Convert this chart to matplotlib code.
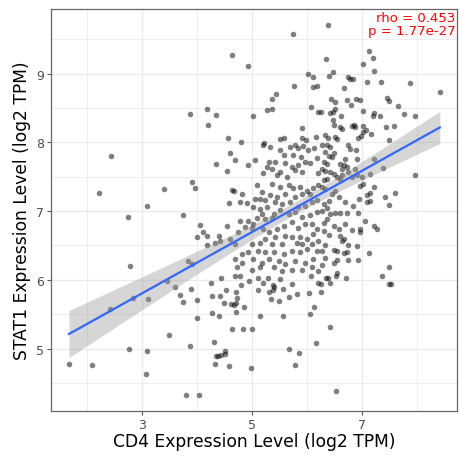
import numpy as np
import matplotlib
matplotlib.use("Agg")
import matplotlib.pyplot as plt
from matplotlib.ticker import MultipleLocator

# (CD4, STAT1) pairs, grouped by region of the panel
upper_mid = [(5.75, 9.58), (4.64, 9.27), (4.92, 9.11), (6.02, 9.00), (6.10, 8.95), (5.76, 8.82),
             (6.11, 8.81), (6.18, 8.82), (5.44, 8.71), (5.36, 8.64), (3.87, 8.42), (4.18, 8.48),
             (4.35, 8.40), (5.02, 8.39), (5.26, 8.47), (5.36, 8.49), (6.07, 8.51), (6.19, 8.44),
             (4.20, 8.25), (5.91, 8.21), (4.56, 8.07), (4.80, 8.01), (5.51, 8.05), (5.57, 8.07),
             (5.91, 8.07), (5.98, 8.04), (6.16, 8.08), (5.21, 7.99)]

upper_right = [(6.37, 9.71), (6.34, 9.21), (7.13, 9.33), (7.19, 9.23), (7.01, 9.14), (6.46, 9.03),
               (6.39, 8.97), (7.22, 9.04), (6.75, 8.96), (6.78, 8.92), (6.83, 8.92), (6.66, 8.79),
               (7.08, 8.88), (7.35, 8.88), (7.87, 8.86), (8.41, 8.73), (6.43, 8.64), (6.50, 8.59),
               (6.73, 8.62), (6.89, 8.64), (6.96, 8.62), (7.45, 8.65), (7.48, 8.60), (6.79, 8.54),
               (7.02, 8.46), (7.65, 8.53), (6.41, 8.43), (6.46, 8.45), (6.50, 8.49), (6.62, 8.38),
               (7.22, 8.43), (7.19, 8.38), (7.33, 8.39), (7.76, 8.41), (7.96, 8.39), (6.47, 8.32),
               (6.49, 8.25), (6.60, 8.22), (6.64, 8.19), (6.82, 8.24), (6.85, 8.25), (6.87, 8.22),
               (7.02, 8.24), (7.07, 8.18), (7.01, 8.15), (7.16, 8.12), (7.43, 8.22), (7.58, 8.24),
               (6.33, 8.11), (6.37, 8.06), (6.51, 8.08), (6.55, 8.05), (6.97, 8.09), (6.93, 8.06),
               (7.49, 8.04), (6.25, 8.44)]

mid_left = [(2.44, 7.80), (2.22, 7.26), (3.39, 7.32), (3.08, 7.08), (2.74, 6.92), (3.75, 6.94),
            (2.78, 6.20)]

center = [(4.60, 7.84), (4.69, 7.74), (5.05, 7.75), (4.34, 7.69), (4.55, 7.58), (4.93, 7.67),
          (5.19, 7.97), (5.33, 7.94), (5.50, 7.89), (5.57, 7.82), (5.68, 7.93), (5.78, 7.97),
          (5.84, 7.92), (5.93, 7.95), (6.02, 7.89), (6.13, 7.92), (5.75, 7.82), (5.89, 7.79),
          (5.30, 7.72), (5.42, 7.72), (5.26, 7.65), (5.36, 7.62), (5.19, 7.55), (5.45, 7.52),
          (5.51, 7.57), (5.60, 7.70), (5.72, 7.65), (5.84, 7.67), (5.96, 7.72), (6.05, 7.70),
          (6.17, 7.77), (5.78, 7.60), (5.90, 7.57), (5.63, 7.50), (6.19, 7.55), (3.90, 7.42),
          (3.96, 7.34), (4.63, 7.31), (4.66, 7.30), (4.81, 7.25), (4.57, 7.12), (4.78, 7.13),
          (4.90, 7.12), (5.08, 7.38), (5.17, 7.28), (5.36, 7.40), (5.51, 7.35), (5.66, 7.38),
          (5.75, 7.33), (5.87, 7.35), (5.99, 7.30), (6.11, 7.33), (6.20, 7.38), (5.33, 7.23),
          (5.45, 7.21), (5.60, 7.25), (5.78, 7.21), (5.90, 7.25), (6.05, 7.25), (5.05, 7.18),
          (5.14, 7.18), (5.23, 7.16), (5.42, 7.13), (5.54, 7.11), (5.69, 7.13), (5.84, 7.06),
          (5.96, 7.08), (6.08, 7.13), (6.17, 7.16), (5.02, 7.06), (5.14, 7.03), (5.26, 7.06),
          (5.39, 6.96), (5.51, 7.01), (5.66, 6.96), (5.78, 6.99), (5.90, 6.91), (6.05, 6.94),
          (6.17, 6.99), (5.17, 6.96), (5.08, 6.90), (5.23, 6.89), (5.36, 6.90), (4.93, 6.86),
          (5.02, 6.81), (4.78, 6.86), (4.87, 6.77), (4.75, 6.69), (4.54, 6.79), (4.05, 6.80),
          (4.11, 6.69), (4.17, 6.64), (3.99, 6.62), (4.17, 6.50), (4.39, 6.64), (4.42, 6.57),
          (4.33, 6.54), (4.60, 6.59), (4.69, 6.52), (4.99, 6.76), (5.20, 6.74), (5.30, 6.69),
          (5.45, 6.74), (5.57, 6.79), (5.72, 6.84), (5.84, 6.76), (5.96, 6.81), (6.08, 6.81),
          (6.17, 6.74), (5.23, 6.59), (5.42, 6.62), (5.60, 6.64), (5.72, 6.62), (5.87, 6.62),
          (5.99, 6.59), (6.11, 6.67), (6.20, 6.57), (4.99, 6.52), (5.14, 6.54), (5.36, 6.52),
          (5.54, 6.52), (5.81, 6.54), (5.90, 6.52), (6.08, 6.52), (5.11, 6.42), (4.93, 6.40),
          (4.81, 6.37), (4.69, 6.30), (4.81, 6.25), (5.02, 6.30), (5.23, 6.40), (5.39, 6.40),
          (5.57, 6.37), (5.72, 6.42), (5.87, 6.40), (5.99, 6.45), (6.17, 6.42), (5.17, 6.25),
          (5.30, 6.30), (5.48, 6.27), (5.60, 6.23), (5.78, 6.27), (5.96, 6.25), (6.11, 6.30),
          (4.72, 6.18), (4.99, 6.15), (5.14, 6.18), (5.39, 6.18), (5.54, 6.13), (5.72, 6.15),
          (5.90, 6.15), (6.08, 6.18), (6.20, 6.13), (3.84, 6.27), (3.90, 6.23)]

center_right = [(6.27, 7.96), (6.36, 7.97), (6.42, 7.94), (6.33, 7.86), (6.39, 7.81), (6.45, 7.79),
                (6.48, 7.84), (6.75, 7.96), (6.78, 7.91), (6.89, 7.89), (6.90, 7.76), (6.69, 7.76),
                (6.60, 7.69), (6.66, 7.67), (6.63, 7.62), (6.72, 7.64), (6.87, 7.62), (7.21, 7.76),
                (7.37, 7.63), (7.15, 7.54), (7.96, 7.52), (6.30, 7.72), (6.36, 7.69), (6.27, 7.62),
                (6.33, 7.59), (6.42, 7.57), (6.48, 7.54), (6.54, 7.49), (6.36, 7.47), (6.30, 7.45),
                (6.60, 7.47), (6.63, 7.52), (6.81, 7.49), (6.75, 7.57), (6.90, 7.52), (6.99, 7.49),
                (7.02, 7.40), (6.96, 7.37), (7.21, 7.35), (7.15, 7.27), (7.08, 7.23), (7.08, 7.13),
                (7.15, 7.15), (7.42, 7.20), (7.60, 7.27), (7.48, 7.09), (6.27, 7.35), (6.33, 7.32),
                (6.45, 7.25), (6.51, 7.30), (6.57, 7.20), (6.69, 7.13), (6.84, 7.08), (6.95, 7.18),
                (6.39, 7.15), (6.30, 7.10), (6.36, 7.05), (6.51, 6.98), (6.60, 6.97), (6.72, 6.98),
                (6.93, 6.98), (6.27, 7.00), (6.42, 6.96), (6.36, 6.88), (6.30, 6.83), (6.48, 6.78),
                (6.69, 6.81), (6.57, 6.74), (6.81, 6.72), (6.96, 6.74), (6.96, 6.69), (7.05, 6.85),
                (7.21, 6.78), (7.27, 6.74), (6.30, 6.71), (6.39, 6.66), (6.60, 6.64), (6.66, 6.60),
                (6.63, 6.56), (6.75, 6.51), (6.33, 6.51), (6.27, 6.42), (6.48, 6.43), (6.54, 6.42),
                (6.66, 6.39), (6.72, 6.41), (6.90, 6.49), (7.12, 6.39), (6.33, 6.32), (6.75, 6.29),
                (6.93, 6.29), (6.48, 6.24), (6.54, 6.29), (6.27, 6.22), (7.48, 6.18), (6.54, 6.10)]

low_left = [(2.42, 5.57), (2.84, 5.73), (3.10, 5.72), (3.45, 5.98), (3.59, 5.89), (3.69, 5.78),
            (3.75, 5.68), (3.48, 5.20), (2.76, 5.00), (3.08, 4.96), (1.67, 4.78), (2.08, 4.76),
            (3.07, 4.63)]

low_mid = [(4.25, 5.96), (4.43, 6.03), (4.69, 6.06), (4.77, 6.05), (4.95, 5.98), (5.11, 6.03),
           (5.19, 5.96), (5.29, 6.03), (5.38, 5.93), (5.39, 5.89), (5.50, 6.01), (5.73, 5.94),
           (6.07, 6.05), (6.19, 5.96), (3.89, 5.87), (4.52, 5.85), (4.71, 5.83), (4.79, 5.92),
           (5.11, 5.85), (5.30, 5.83), (5.38, 5.85), (5.56, 5.86), (5.81, 5.80), (6.04, 5.81),
           (4.27, 5.77), (4.42, 5.76), (4.73, 5.73), (3.99, 5.70), (4.49, 5.67), (4.62, 5.65),
           (4.67, 5.63), (4.70, 5.66), (4.85, 5.60), (5.34, 5.72), (5.48, 5.69), (5.67, 5.75),
           (6.13, 5.60), (4.27, 5.51), (4.39, 5.48), (4.70, 5.53), (3.99, 5.45), (5.14, 5.47),
           (5.56, 5.47), (6.05, 5.50), (4.64, 5.28), (4.84, 5.29), (5.00, 5.28), (3.86, 5.04),
           (4.30, 5.10), (4.34, 4.89), (4.38, 4.89), (4.43, 4.91), (4.50, 4.96), (4.51, 4.92),
           (4.33, 4.78), (4.57, 4.75), (4.97, 4.72), (5.67, 5.00), (5.85, 4.93), (5.78, 4.76),
           (6.16, 5.08), (3.80, 4.33), (4.04, 4.32)]

low_right = [(6.34, 6.03), (6.37, 6.02), (6.42, 5.96), (6.53, 6.06), (6.71, 6.02), (6.25, 5.94),
             (6.25, 5.83), (7.36, 6.06), (7.49, 5.94), (7.52, 5.94), (6.41, 5.32), (6.52, 4.38)]

rho_text = "rho = 0.453\np = 1.77e-27"
x_label = "CD4 Expression Level (log2 TPM)"
y_label = "STAT1 Expression Level (log2 TPM)"

pts = np.array(upper_mid + upper_right + mid_left + center + center_right
               + low_left + low_mid + low_right)
x, y = pts[:, 0], pts[:, 1]

# linear fit with 95% confidence band, like geom_smooth(method = "lm")
n = len(x)
slope, intercept = np.polyfit(x, y, 1)
resid = y - (slope * x + intercept)
s = np.sqrt(np.sum(resid ** 2) / (n - 2))
sxx = np.sum((x - x.mean()) ** 2)
xs = np.linspace(x.min(), x.max(), 80)
fit = slope * xs + intercept
se = s * np.sqrt(1 / n + (xs - x.mean()) ** 2 / sxx)
band = 1.966 * se

fig = plt.figure(figsize=(4.6, 4.64), dpi=100)
ax = fig.add_axes([0.110, 0.112, 0.884, 0.866])

ax.scatter(x, y, s=16, color="black", alpha=0.5, linewidths=0, zorder=3)
ax.fill_between(xs, fit - band, fit + band, color="#999999", alpha=0.4, linewidth=0, zorder=4)
ax.plot(xs, fit, color="#3366FF", lw=1.6, zorder=5)

ax.set_xlim(1.335, 8.727)
ax.set_ylim(4.09, 9.94)
ax.set_xticks([3, 5, 7])
ax.set_yticks([5, 6, 7, 8, 9])
ax.xaxis.set_minor_locator(MultipleLocator(1))
ax.yaxis.set_minor_locator(MultipleLocator(0.5))
ax.grid(which="major", color="#EBEBEB", lw=1.0, zorder=0)
ax.grid(which="minor", color="#EBEBEB", lw=0.6, zorder=0)
ax.set_axisbelow(True)
ax.tick_params(which="minor", length=0)
ax.tick_params(which="major", length=3, width=0.8, color="#555555",
               labelsize=9, labelcolor="#4D4D4D", pad=2)
for sp in ax.spines.values():
    sp.set_color("#666666")
    sp.set_linewidth(0.9)

ax.set_xlabel(x_label, fontsize=12.3, color="black", labelpad=1)
ax.set_ylabel(y_label, fontsize=12.3, color="black", labelpad=3)

ax.text(0.995, 0.995, rho_text, transform=ax.transAxes, ha="right", va="top",
        color="red", fontsize=9.5, linespacing=0.95)

fig.savefig("out.png", dpi=100)
